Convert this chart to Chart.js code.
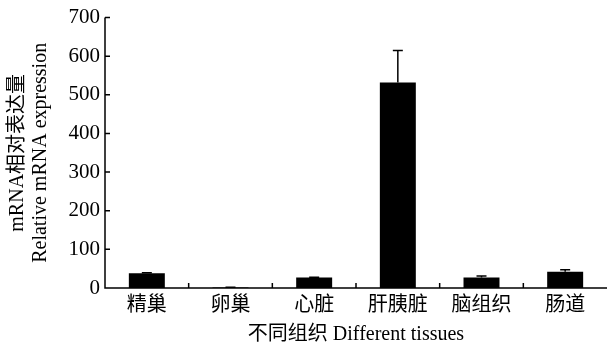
<!DOCTYPE html>
<html>
<head>
<meta charset="utf-8">
<script src="https://cdn.jsdelivr.net/npm/chart.js@4/dist/chart.umd.min.js"></script>
<style>
  html, body { margin: 0; padding: 0; background: #fff; }
  #wrap { width: 608px; height: 347px; }
</style>
</head>
<body>
<div id="wrap"><canvas id="c" width="608" height="347"></canvas></div>
<script>
// Tissue categories and relative expression (mean ± SD)
const tissues = ['精巢', '卵巢', '心脏', '肝胰脏', '脑组织', '肠道'];
const meanValues = [38, 1, 27, 532, 27, 42];
const sdValues = [1.5, 1, 1, 83, 4, 5];
const yTicks = [0, 100, 200, 300, 400, 500, 600, 700];

const serif = '"Liberation Serif", "Times New Roman", "Noto Sans CJK SC", serif';
const cjkSerif = '"Liberation Serif", "Noto Sans CJK SC", serif';

// Error bars (upper whisker with cap)
const errorBars = {
  id: 'errorBars',
  afterDatasetsDraw(chart) {
    const { ctx, scales: { y } } = chart;
    const meta = chart.getDatasetMeta(0);
    ctx.save();
    ctx.strokeStyle = '#000';
    ctx.lineWidth = 1.5;
    meta.data.forEach((bar, i) => {
      const top = y.getPixelForValue(meanValues[i] + sdValues[i]);
      const base = y.getPixelForValue(meanValues[i]);
      ctx.beginPath();
      ctx.moveTo(bar.x, base);
      ctx.lineTo(bar.x, top);
      ctx.moveTo(bar.x - 5, top);
      ctx.lineTo(bar.x + 5, top);
      ctx.stroke();
    });
    ctx.restore();
  }
};

// Axis lines with inward tick marks
const axisFrame = {
  id: 'axisFrame',
  afterDraw(chart) {
    const { ctx, chartArea: a, scales: { x, y } } = chart;
    ctx.save();
    ctx.strokeStyle = '#000';
    ctx.lineWidth = 1.5;
    ctx.beginPath();
    ctx.moveTo(a.left, a.top);
    ctx.lineTo(a.left, a.bottom);
    ctx.lineTo(a.right, a.bottom);
    yTicks.forEach(v => {
      const py = y.getPixelForValue(v);
      ctx.moveTo(a.left, py);
      ctx.lineTo(a.left + 5, py);
    });
    for (let i = 1; i < tissues.length; i++) {
      const px = (x.getPixelForValue(i - 1) + x.getPixelForValue(i)) / 2;
      ctx.moveTo(px, a.bottom);
      ctx.lineTo(px, a.bottom - 5);
    }
    ctx.stroke();
    ctx.restore();
  }
};

new Chart(document.getElementById('c'), {
  type: 'bar',
  data: {
    labels: tissues,
    datasets: [{
      data: meanValues,
      backgroundColor: '#000',
      borderWidth: 0,
      barPercentage: 0.43,
      categoryPercentage: 1
    }]
  },
  options: {
    responsive: false,
    animation: false,
    layout: { padding: { top: 8, right: 1, left: 0, bottom: 0 } },
    plugins: { legend: { display: false }, tooltip: { enabled: false } },
    scales: {
      x: {
        grid: { display: false, drawTicks: false },
        border: { display: false },
        ticks: { color: '#000', font: { family: cjkSerif, size: 20 }, padding: 6 },
        title: {
          display: true,
          text: '不同组织 Different tissues',
          color: '#000',
          font: { family: cjkSerif, size: 20 },
          padding: { top: 0, bottom: 0 }
        },
        afterFit(s) { s.height = 59; }
      },
      y: {
        min: 0, max: 700,
        afterBuildTicks(s) { s.ticks = yTicks.map(v => ({ value: v })); },
        grid: { display: false, drawTicks: false },
        border: { display: false },
        ticks: { color: '#000', font: { family: serif, size: 21 }, padding: 5 },
        title: {
          display: true,
          text: ['mRNA相对表达量', 'Relative mRNA expression'],
          color: '#000',
          font: { family: cjkSerif, size: 20, lineHeight: 1.15 },
          padding: { top: 6, bottom: 0 }
        },
        afterFit(s) { s.width = 105; }
      }
    }
  },
  plugins: [errorBars, axisFrame]
});
</script>
</body>
</html>
